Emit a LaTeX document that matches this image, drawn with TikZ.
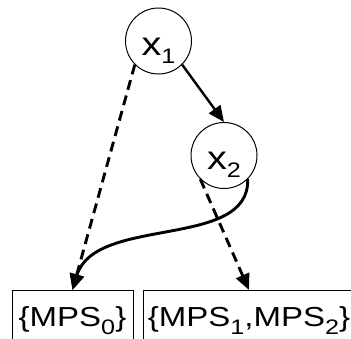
\documentclass[tikz,border=0pt]{standalone}
\usepackage{fontspec}
\setmainfont{Liberation Sans}[FakeStretch=1.2]
\usetikzlibrary{arrows.meta}
\newcommand\mysub[1]{\raisebox{-8pt}{\fontsize{21}{21}\selectfont #1}}
\tikzset{
  var/.style={circle,draw,line width=1pt,minimum size=66pt,inner sep=0pt,
    font=\fontsize{33}{33}\selectfont,text height=28pt,text depth=0pt},
  setbox/.style={draw,line width=1pt,minimum height=60pt,inner sep=0pt,anchor=north,
    font=\fontsize{27.5}{27.5}\selectfont},
  link/.style={line width=2.9pt,-{Triangle[length=16pt,width=14pt]}},
  dlink/.style={link,dash pattern=on 10pt off 6pt},
}
\begin{document}
\begin{tikzpicture}[x=1pt,y=-1pt]
\useasboundingbox (0,0) rectangle (351,338);
\clip (0,0) rectangle (351,338);
\node[var] (x1) at (158.5,41) {x\mysub{1}};
\node[var] (x2) at (224,155.5) {x\mysub{2}};
\node[setbox,minimum width=121pt] (b1) at (72.5,290) {\{MPS\mysub{0}\}};
\node[setbox,minimum width=212pt] (b2) at (249,290) {\{MPS\mysub{1},MPS\mysub{2}\}};
\draw[link,line width=2.4pt] (x1.-45) -- (x2.north);
\draw[dlink] (x1.-135) -- (b1.north);
\draw[dlink] (x2.-135) -- (b2.north);
\draw[link] (x2.-45) .. controls (250,250) and (95,215) .. (b1.north);
\end{tikzpicture}
\end{document}
